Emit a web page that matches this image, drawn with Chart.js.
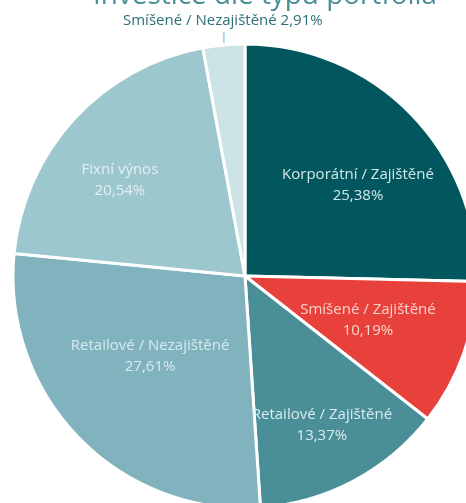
<!DOCTYPE html>
<html>
<head>
<meta charset="utf-8">
<script src="https://cdn.jsdelivr.net/npm/chart.js@4/dist/chart.umd.min.js"></script>
<style>
  html, body { margin: 0; padding: 0; width: 466px; height: 503px; overflow: hidden; background: #fff; }
  #wrap { position: absolute; left: -5px; top: -4px; width: 500px; height: 560px; }
</style>
</head>
<body>
<div id="wrap"><canvas id="c" width="500" height="560"></canvas></div>
<canvas id="t" width="466" height="40" style="position:absolute;left:0;top:0;"></canvas>
<script>
const titleText = "Investice dle typu portfolia";
const categories = [
  "Korporátní / Zajištěné",
  "Smíšené / Zajištěné",
  "Retailové / Zajištěné",
  "Retailové / Nezajištěné",
  "Fixní výnos",
  "Smíšené / Nezajištěné"
];
const values = [25.38, 10.19, 13.37, 27.61, 20.54, 2.91];
const valueLabels = ["25,38%", "10,19%", "13,37%", "27,61%", "20,54%", "2,91%"];
const colors = ["#02575F", "#E8403A", "#4A8E98", "#80B3BD", "#9CC7CE", "#CCE3E6"];
const labelColors = ["#D4E8EA", "#F7D3CD", "#D9ECEF", "#D6EAED", "#E3F0F2", "#2E6F79"];

const FAMILY = '"Open Sans", Lato, sans-serif';
function fitSize(ctx, text, width, weight) {
  ctx.font = (weight || '') + ' 20px ' + FAMILY;
  return 20 * width / ctx.measureText(text).width;
}

// title (only lower part visible, like the reference)
(function(){
  const t = document.getElementById('t').getContext('2d');
  const sz = fitSize(t, titleText, 344);
  t.font = sz.toFixed(2) + 'px ' + FAMILY;
  t.fillStyle = '#4A8E98';
  t.textAlign = 'center';
  t.textBaseline = 'alphabetic';
  t.fillText(titleText, 265, 4);
})();

const labelPlugin = {
  id: 'sliceLabels',
  afterDatasetsDraw(chart) {
    const ctx = chart.ctx;
    const meta = chart.getDatasetMeta(0);
    // label placement: [angle shift (deg), radius fraction]
    const place = [[5.5, 0.625], [0, 0.563], [0.6, 0.723], [4, 0.535], [-5.1, 0.679]];
    ctx.save();
    const sz = fitSize(ctx, categories[0], 152);
    ctx.font = sz.toFixed(2) + 'px ' + FAMILY;
    ctx.textAlign = 'center';
    ctx.textBaseline = 'middle';
    meta.data.forEach((arc, i) => {
      const p = arc.getProps(['x','y','startAngle','endAngle','outerRadius'], true);
      const mid = (p.startAngle + p.endAngle) / 2;
      ctx.fillStyle = labelColors[i];
      if (i < 5) {
        const a = mid + place[i][0] * Math.PI / 180;
        const r = p.outerRadius * place[i][1];
        const cx = p.x + Math.cos(a) * r;
        const cy = p.y + Math.sin(a) * r;
        ctx.fillText(categories[i], cx, cy - 10.5);
        ctx.fillText(valueLabels[i], cx, cy + 10.5);
      } else {
        const ex = p.x + Math.cos(mid) * p.outerRadius;
        const ey = p.y + Math.sin(mid) * p.outerRadius;
        ctx.strokeStyle = '#A6DCE4';
        ctx.lineWidth = 2;
        ctx.beginPath();
        ctx.moveTo(ex, ey - 2);
        ctx.lineTo(ex, ey - 13);
        ctx.stroke();
        ctx.fillText(categories[i] + ' ' + valueLabels[i], ex - 1, ey - 24);
      }
    });
    ctx.restore();
  }
};

new Chart(document.getElementById('c'), {
  type: 'pie',
  data: {
    labels: categories,
    datasets: [{
      data: values,
      backgroundColor: colors,
      borderColor: '#ffffff',
      borderWidth: 3,
      radius: 232
    }]
  },
  options: {
    responsive: false,
    animation: false,
    layout: { padding: 0 },
    plugins: { legend: { display: false }, tooltip: { enabled: false }, title: { display: false } }
  },
  plugins: [labelPlugin]
});
</script>
</body>
</html>
